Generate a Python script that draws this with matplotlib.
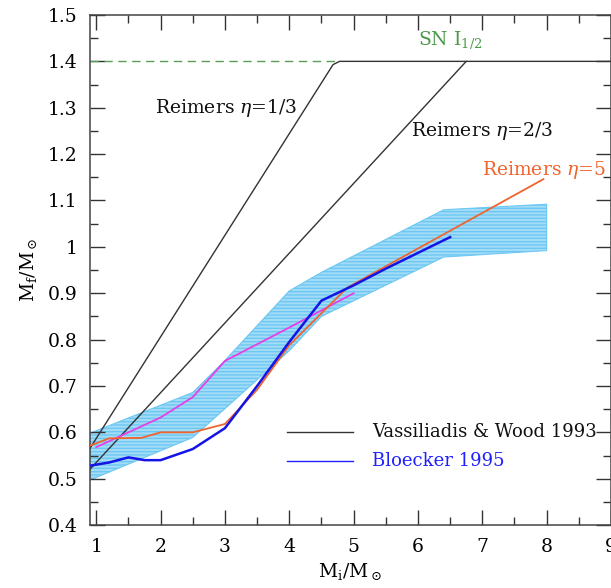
# plot.py
# Final mass vs initial mass (Mf/Msun vs Mi/Msun)
# - Reimers lines, Bloecker 1995, Vassiliadis & Wood 1993, band

import matplotlib
matplotlib.use("Agg")
import matplotlib.pyplot as plt
from matplotlib.ticker import MultipleLocator

plt.rcParams['font.family'] = ['DejaVu Serif']
plt.rcParams['mathtext.fontset'] = 'dejavuserif'

# =========================
# DATA
# =========================

# Reimers eta=1/3 (black), goes flat at 1.4
eta13_x = [0.9, 4.68, 4.78, 9.0]
eta13_y = [0.565, 1.393, 1.4, 1.4]

# Reimers eta=2/3 (black)
eta23_x = [0.9, 6.75]
eta23_y = [0.52, 1.4]

# Reimers eta=5 (orange)
eta5_x = [0.9, 1.2, 1.7, 2.0, 2.5, 3.0, 3.5, 4.0, 4.9, 7.95]
eta5_y = [0.571, 0.587, 0.588, 0.600, 0.600, 0.618, 0.692, 0.788, 0.912, 1.146]

# Bloecker 1995 (blue)
bloe_x = [0.9, 1.2, 1.5, 1.75, 2.0, 2.5, 3.0, 3.5, 4.0, 4.5, 5.0, 5.5, 6.5]
bloe_y = [0.528, 0.535, 0.546, 0.540, 0.540, 0.564, 0.609, 0.700, 0.795, 0.884, 0.917, 0.953, 1.021]

# magenta curve
mag_x = [1.0, 2.0, 2.5, 3.0, 4.0, 5.0]
mag_y = [0.568, 0.632, 0.676, 0.754, 0.826, 0.900]

# Vassiliadis & Wood band (cyan)
band_x = [0.9, 2.5, 3.0, 4.0, 4.5, 6.4, 8.0]
band_lo = [0.497, 0.589, 0.651, 0.776, 0.850, 0.978, 0.992]
band_hi = [0.598, 0.686, 0.755, 0.905, 0.945, 1.080, 1.092]

# SN I limit (green dashed)
sn_x = [0.9, 4.78]
sn_y = [1.4, 1.4]

# manual legend
leg_x = [3.97, 4.99]
leg_vw_y = [0.600, 0.600]
leg_bl_y = [0.539, 0.539]

# =========================
# PLOT
# =========================

fig = plt.figure(figsize=(6.11, 5.88), dpi=100)
ax = fig.add_axes([0.147, 0.107, 0.853, 0.8675])

# band
ax.fill_between(band_x, band_lo, band_hi, facecolor='#a4dcf7', edgecolor='#6cc8f3',
                hatch='-----', linewidth=0.8, zorder=1)

ax.plot(sn_x, sn_y, color='#55a055', lw=1.0, ls=(0, (6, 4)), zorder=2)
ax.plot(eta13_x, eta13_y, color='#333333', lw=1.0, zorder=3)
ax.plot(eta23_x, eta23_y, color='#333333', lw=1.0, zorder=3)
ax.plot(mag_x, mag_y, color='#e83ee8', lw=1.3, zorder=3)
ax.plot(eta5_x, eta5_y, color='#f0642e', lw=1.3, zorder=4)
ax.plot(bloe_x, bloe_y, color='#1414e6', lw=1.8, zorder=5)

# legend by hand
ax.plot(leg_x, leg_vw_y, color='#333333', lw=1.0)
ax.plot(leg_x, leg_bl_y, color='#2020ff', lw=1.0)
ax.text(5.29, 0.600, 'Vassiliadis & Wood 1993', fontsize=13, va='center', color='#111111')
ax.text(5.29, 0.539, 'Bloecker 1995', fontsize=13, va='center', color='#2020ff')

# labels
ax.text(1.91, 1.30, r'Reimers $\eta$=1/3', fontsize=13.5, va='center', color='#111111')
ax.text(5.89, 1.250, r'Reimers $\eta$=2/3', fontsize=13.5, va='center', color='#111111')
ax.text(6.99, 1.165, r'Reimers $\eta$=5', fontsize=13.5, va='center', color='#f0642e')
ax.text(6.0, 1.446, r'SN I$_{1/2}$', fontsize=13.5, va='center', color='#4a9a4a')

# axes
ax.set_xlim(0.9, 9)
ax.set_ylim(0.4, 1.5)
ax.xaxis.set_major_locator(MultipleLocator(1))
ax.xaxis.set_minor_locator(MultipleLocator(0.5))
ax.yaxis.set_major_locator(MultipleLocator(0.1))
ax.yaxis.set_minor_locator(MultipleLocator(0.05))
ax.set_yticks([0.4, 0.5, 0.6, 0.7, 0.8, 0.9, 1.0, 1.1, 1.2, 1.3, 1.4, 1.5])
ax.set_yticklabels(['0.4', '0.5', '0.6', '0.7', '0.8', '0.9', '1', '1.1', '1.2', '1.3', '1.4', '1.5'])
ax.tick_params(which='both', direction='in', top=True, right=True, color='#333333')
ax.tick_params(which='major', length=10.5, width=1.0, labelsize=13.5, pad=9)
ax.tick_params(which='minor', length=5.5, width=1.0)
for s in ax.spines.values():
    s.set_color('#444444')
    s.set_linewidth(1.1)

ax.set_xlabel(r'M$_{\rm i}$/M$_\odot$', fontsize=13.5, labelpad=4)
ax.set_ylabel(r'M$_{\rm f}$/M$_\odot$', fontsize=13.5, labelpad=6)

plt.savefig('out.png', dpi=100)
plt.close()
